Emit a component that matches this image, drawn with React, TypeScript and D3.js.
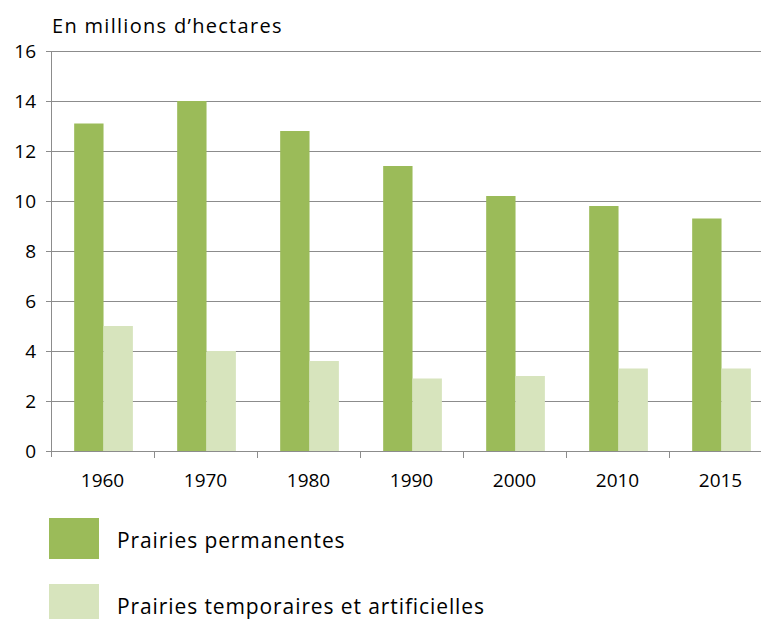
import { useEffect, useRef } from 'react';
import * as d3 from 'd3';

const years = ['1960', '1970', '1980', '1990', '2000', '2010', '2015'];
const permanentes = [13.1, 14.0, 12.8, 11.4, 10.2, 9.8, 9.3];
const temporaires = [5.0, 4.0, 3.6, 2.9, 3.0, 3.3, 3.3];
const seriesNames = ['Prairies permanentes', 'Prairies temporaires et artificielles'];
const seriesColors = ['#9bbb59', '#d7e4bd'];
const yTicks = [0, 2, 4, 6, 8, 10, 12, 14, 16];

const W = 761;
const H = 619;
const FONT = '"Open Sans", "Noto Sans", sans-serif';

const App = () => {
  const ref = useRef<SVGSVGElement>(null);

  useEffect(() => {
    document.body.style.margin = '0';
    const svg = d3.select(ref.current);
    svg.selectAll('*').remove();

    const left = 51;
    const top = 51;
    const bottom = 451;

    const x0 = d3.scaleBand().domain(years).range([left, left + 103 * years.length]).padding(0);
    const bw = x0.bandwidth();
    const x1 = d3.scaleBand().domain(seriesNames).range([bw * 0.225, bw * 0.795]).padding(0);
    const y = d3.scaleLinear().domain([0, 16]).range([bottom, top]);

    // title
    svg.append('text')
      .attr('x', 52)
      .attr('y', 33)
      .attr('font-family', FONT)
      .attr('font-size', 20)
      .attr('letter-spacing', 1.3)
      .attr('fill', '#000')
      .text('En millions d\u2019hectares');

    // grid lines
    svg.append('g')
      .selectAll('line')
      .data(yTicks.filter(d => d > 0))
      .enter().append('line')
      .attr('x1', left)
      .attr('x2', W)
      .attr('y1', d => y(d) + 0.5)
      .attr('y2', d => y(d) + 0.5)
      .attr('stroke', '#8c8c8c')
      .attr('stroke-width', 1);

    // y labels + small ticks
    const yAxis = svg.append('g');
    yAxis.selectAll('text')
      .data(yTicks)
      .enter().append('text')
      .attr('x', 36)
      .attr('y', d => y(d))
      .attr('dy', '0.35em')
      .attr('text-anchor', 'end')
      .attr('font-family', FONT)
      .attr('font-size', 19)
      .attr('fill', '#000')
      .text(d => d);
    yAxis.selectAll('line')
      .data(yTicks)
      .enter().append('line')
      .attr('x1', left - 5)
      .attr('x2', left)
      .attr('y1', d => y(d) + 0.5)
      .attr('y2', d => y(d) + 0.5)
      .attr('stroke', '#8c8c8c');

    // bars
    const data = years.map((yr, i) => ({ yr, vals: [permanentes[i], temporaires[i]] }));
    const groups = svg.append('g')
      .selectAll('g')
      .data(data)
      .enter().append('g')
      .attr('transform', d => `translate(${x0(d.yr)},0)`);
    groups.selectAll('rect')
      .data(d => d.vals.map((v, k) => ({ v, k })))
      .enter().append('rect')
      .attr('x', d => x1(seriesNames[d.k]) as number)
      .attr('width', x1.bandwidth())
      .attr('y', d => y(d.v))
      .attr('height', d => y(0) - y(d.v))
      .attr('fill', d => seriesColors[d.k]);

    // axes lines
    svg.append('line')
      .attr('x1', left + 0.5).attr('x2', left + 0.5)
      .attr('y1', top).attr('y2', bottom + 6)
      .attr('stroke', '#8c8c8c');
    svg.append('line')
      .attr('x1', left).attr('x2', W)
      .attr('y1', bottom + 0.5).attr('y2', bottom + 0.5)
      .attr('stroke', '#8c8c8c');
    svg.append('g')
      .selectAll('line')
      .data(years.slice(1))
      .enter().append('line')
      .attr('x1', d => (x0(d) as number) + 0.5)
      .attr('x2', d => (x0(d) as number) + 0.5)
      .attr('y1', bottom)
      .attr('y2', bottom + 7)
      .attr('stroke', '#8c8c8c');

    // x labels
    svg.append('g')
      .selectAll('text')
      .data(years)
      .enter().append('text')
      .attr('x', d => (x0(d) as number) + bw / 2)
      .attr('y', 487)
      .attr('text-anchor', 'middle')
      .attr('font-family', FONT)
      .attr('font-size', 19)
      .attr('fill', '#000')
      .text(d => d);

    // legend
    const legend = svg.append('g')
      .selectAll('g')
      .data(seriesNames)
      .enter().append('g')
      .attr('transform', (_d, i) => `translate(49,${518 + i * 66})`);
    legend.append('rect')
      .attr('width', 50)
      .attr('height', 41)
      .attr('fill', (_d, i) => seriesColors[i]);
    legend.append('text')
      .attr('x', 68)
      .attr('y', 30)
      .attr('font-family', FONT)
      .attr('font-size', 21)
      .attr('letter-spacing', 0.9)
      .attr('fill', '#000')
      .text(d => d);
  }, []);

  return <svg ref={ref} width={W} height={H} style={{ display: 'block', background: '#fff' }} />;
};

export default App;
